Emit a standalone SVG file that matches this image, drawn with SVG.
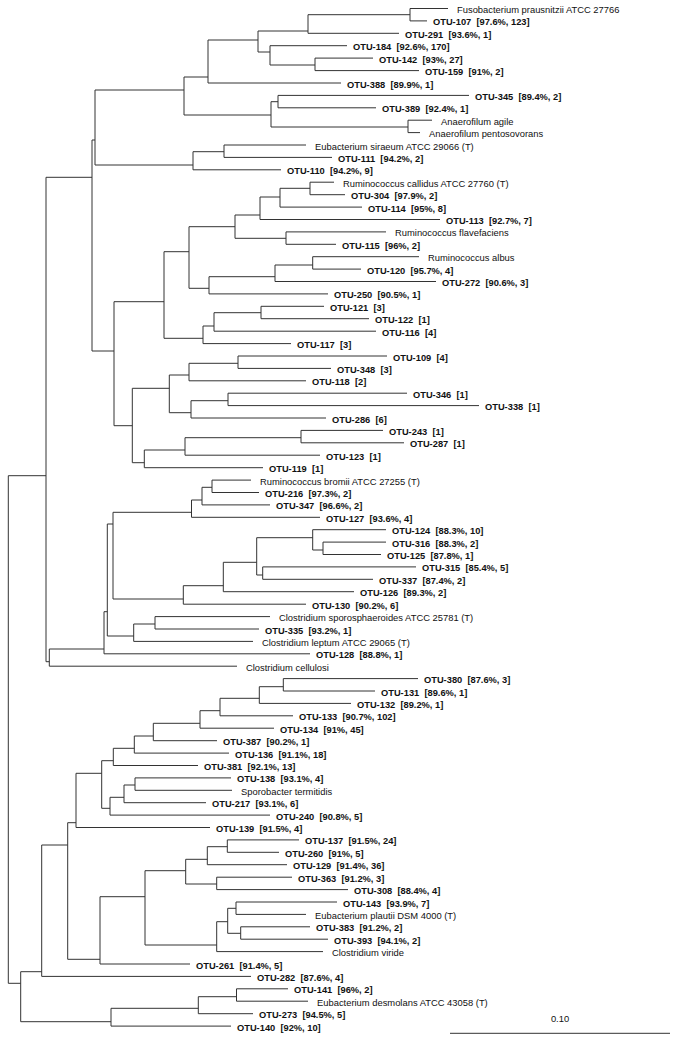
<svg xmlns="http://www.w3.org/2000/svg" width="698" height="1043" viewBox="0 0 698 1043">
<style>
.b{fill:none;stroke:#333;stroke-width:1}
.o{font-family:"Liberation Sans",Arial,sans-serif;font-weight:bold;font-size:9.3px;fill:#111;white-space:pre}
.s{font-family:"Liberation Sans",Arial,sans-serif;font-size:9.4px;fill:#111}
</style>
<rect width="698" height="1043" fill="#fff"/>
<g id="connectors" class="b">
<path id="Na" d="M410 8.5V20.9M410 8.5H448M410 20.9H427"/>
<path id="Nb" d="M308 14.7V33.3M308 14.7H410M308 33.3H399"/>
<path id="Nc" d="M315 58.1V70.6M315 58.1H373M315 70.6H419"/>
<path id="Nd" d="M270 45.7V65M270 45.7H347M270 65H315"/>
<path id="Ne" d="M258 31V52M258 31H308M258 52H270"/>
<path id="Nf" d="M208 40V83M208 40H258M208 83H341"/>
<path id="Ng" d="M278 95.4V107.8M278 95.4H469M278 107.8H376"/>
<path id="Nh" d="M408 120.2V132.6M408 120.2H432M408 132.6H420"/>
<path id="Ni" d="M271 101.7V127M271 101.7H278M271 127H408"/>
<path id="Nj" d="M184 77V115M184 77H208M184 115H271"/>
<path id="Nl" d="M224 145V157.4M224 145H306M224 157.4H332"/>
<path id="Nm" d="M193 151.7V169.8M193 151.7H224M193 169.8H281"/>
<path id="Nk" d="M95 90V165M95 90H184M95 165H193"/>
<path id="R1" d="M310 182.2V194.7M310 182.2H334M310 194.7H345"/>
<path id="R2" d="M280 188.3V207.1M280 188.3H310M280 207.1H362"/>
<path id="R3" d="M260 197V219.5M260 197H280M260 219.5H440"/>
<path id="R4" d="M286 231.9V244.3M286 231.9H386M286 244.3H336"/>
<path id="R5" d="M235 215V238.3M235 215H260M235 238.3H286"/>
<path id="R6" d="M312.7 256.7V269.1M312.7 256.7H419M312.7 269.1H361"/>
<path id="R7" d="M275 265V281.5M275 265H312.7M275 281.5H436"/>
<path id="R8" d="M209 276.7V293.9M209 276.7H275M209 293.9H328"/>
<path id="R9" d="M189 226.7V288.3M189 226.7H235M189 288.3H209"/>
<path id="R10" d="M261 306.3V318.7M261 306.3H324M261 318.7H369"/>
<path id="R11" d="M214 312.7V331.2M214 312.7H261M214 331.2H376"/>
<path id="R12" d="M203 326V343.6M203 326H214M203 343.6H291"/>
<path id="R13" d="M164 251.7V338.3M164 251.7H189M164 338.3H203"/>
<path id="S1" d="M238 356V368.4M238 356H387M238 368.4H331"/>
<path id="S2" d="M189 363.3V380.8M189 363.3H238M189 380.8H306"/>
<path id="S3" d="M228 393.2V405.6M228 393.2H407M228 405.6H479"/>
<path id="S4" d="M191 400.7V418M191 400.7H228M191 418H326"/>
<path id="S5" d="M169.3 375V412.7M169.3 375H189M169.3 412.7H191"/>
<path id="S6" d="M301 430.4V442.8M301 430.4H383M301 442.8H404"/>
<path id="S7" d="M185 437.7V455.2M185 437.7H301M185 455.2H320"/>
<path id="S8" d="M144.3 450V467.7M144.3 450H185M144.3 467.7H263"/>
<path id="S9" d="M132.3 388.3V462.7M132.3 388.3H169.3M132.3 462.7H144.3"/>
<path id="X" d="M114 301.7V425.7M114 301.7H164M114 425.7H132.3"/>
<path id="Nn" d="M92 140V351M92 140H95M92 351H114"/>
<path id="B1" d="M212 480.1V492.5M212 480.1H251M212 492.5H259"/>
<path id="B2" d="M202 487.3V504.9M202 487.3H212M202 504.9H270"/>
<path id="B3" d="M191.5 500V517.3M191.5 500H202M191.5 517.3H320"/>
<path id="A1" d="M323 542.1V554.5M323 542.1H386M323 554.5H381"/>
<path id="A2" d="M312.7 529.7V550M312.7 529.7H386M312.7 550H323"/>
<path id="A3" d="M262.7 566.9V579.3M262.7 566.9H416M262.7 579.3H373"/>
<path id="A4" d="M256.7 537.7V575M256.7 537.7H312.7M256.7 575H262.7"/>
<path id="A5" d="M223.3 562.3V591.7M223.3 562.3H256.7M223.3 591.7H354"/>
<path id="A6" d="M183.3 585.7V604.2M183.3 585.7H223.3M183.3 604.2H306"/>
<path id="B4" d="M113 512.3V599M113 512.3H191.5M113 599H183.3"/>
<path id="C1" d="M155 616.6V629M155 616.6H270M155 629H259"/>
<path id="C2" d="M133.7 624V641.4M133.7 624H155M133.7 641.4H253"/>
<path id="C3" d="M107.3 524V636M107.3 524H113M107.3 636H133.7"/>
<path id="C4" d="M104 611.7V653.8M104 611.7H107.3M104 653.8H310"/>
<path id="C5" d="M49.3 649V666.2M49.3 649H104M49.3 666.2H237"/>
<path id="No" d="M46 177.3V661.7M46 177.3H92M46 661.7H49.3"/>
<path id="D1" d="M283.3 678.6V691M283.3 678.6H418M283.3 691H375"/>
<path id="D2" d="M259.3 686.7V703.4M259.3 686.7H283.3M259.3 703.4H351"/>
<path id="D3" d="M220 698.3V715.8M220 698.3H259.3M220 715.8H293"/>
<path id="D4" d="M200 710.7V728.2M200 710.7H220M200 728.2H274"/>
<path id="D5" d="M153.3 723.3V740.7M153.3 723.3H200M153.3 740.7H217"/>
<path id="D6" d="M134.3 736V753.1M134.3 736H153.3M134.3 753.1H229"/>
<path id="D7" d="M113.3 748.3V765.5M113.3 748.3H134.3M113.3 765.5H198"/>
<path id="E1" d="M135 777.9V790.3M135 777.9H231M135 790.3H232"/>
<path id="E2" d="M124 785V802.7M124 785H135M124 802.7H206"/>
<path id="E3" d="M110 797.3V815.1M110 797.3H124M110 815.1H270"/>
<path id="D8" d="M101.7 760.7V808.3M101.7 760.7H113.3M101.7 808.3H110"/>
<path id="D9" d="M76 773.3V827.5M76 773.3H101.7M76 827.5H210"/>
<path id="F1" d="M227.3 839.9V852.3M227.3 839.9H299M227.3 852.3H279"/>
<path id="F2" d="M207.3 846.7V864.7M207.3 846.7H227.3M207.3 864.7H287"/>
<path id="F3" d="M216.7 877.2V889.6M216.7 877.2H292M216.7 889.6H348"/>
<path id="F4" d="M185.7 859.3V884M185.7 859.3H207.3M185.7 884H216.7"/>
<path id="G1" d="M236 902V914.4M236 902H337M236 914.4H306"/>
<path id="G2" d="M240.7 926.8V939.2M240.7 926.8H310M240.7 939.2H328"/>
<path id="G3" d="M227.7 908.3V933.3M227.7 908.3H236M227.7 933.3H240.7"/>
<path id="G4" d="M216.7 921.7V951.6M216.7 921.7H227.7M216.7 951.6H323"/>
<path id="F5" d="M145 870.7V945M145 870.7H185.7M145 945H216.7"/>
<path id="F6" d="M100 896.7V964M100 896.7H145M100 964H190"/>
<path id="D10" d="M67.7 822.7V959.3M67.7 822.7H76M67.7 959.3H100"/>
<path id="D11" d="M41.7 845V976.4M41.7 845H67.7M41.7 976.4H251"/>
<path id="H1" d="M236.5 988.8V1001.2M236.5 988.8H288M236.5 1001.2H308"/>
<path id="H2" d="M198.3 996.7V1013.7M198.3 996.7H236.5M198.3 1013.7H253"/>
<path id="H3" d="M111 1008.3V1026.1M111 1008.3H198.3M111 1026.1H231"/>
<path id="D12" d="M20.7 971.7V1021.7M20.7 971.7H41.7M20.7 1021.7H111"/>
<path id="Root" d="M8.3 475.7V983.3M8.3 475.7H46M8.3 983.3H20.7"/>
</g>
<g id="leaf-fuso"><text class="s" x="457" y="13">Fusobacterium prausnitzii ATCC 27766</text></g>
<g id="leaf-otu107"><text class="o" x="433" y="25.4" xml:space="preserve">OTU-107  [97.6%, 123]</text></g>
<g id="leaf-otu291"><text class="o" x="405" y="37.8" xml:space="preserve">OTU-291  [93.6%, 1]</text></g>
<g id="leaf-otu184"><text class="o" x="353" y="50.2" xml:space="preserve">OTU-184  [92.6%, 170]</text></g>
<g id="leaf-otu142"><text class="o" x="379" y="62.6" xml:space="preserve">OTU-142  [93%, 27]</text></g>
<g id="leaf-otu159"><text class="o" x="425" y="75.1" xml:space="preserve">OTU-159  [91%, 2]</text></g>
<g id="leaf-otu388"><text class="o" x="347" y="87.5" xml:space="preserve">OTU-388  [89.9%, 1]</text></g>
<g id="leaf-otu345"><text class="o" x="475" y="99.9" xml:space="preserve">OTU-345  [89.4%, 2]</text></g>
<g id="leaf-otu389"><text class="o" x="382" y="112.3" xml:space="preserve">OTU-389  [92.4%, 1]</text></g>
<g id="leaf-aagile"><text class="s" x="441" y="124.7">Anaerofilum agile</text></g>
<g id="leaf-apento"><text class="s" x="429" y="137.1">Anaerofilum pentosovorans</text></g>
<g id="leaf-esiraeum"><text class="s" x="315" y="149.5">Eubacterium siraeum ATCC 29066 (T)</text></g>
<g id="leaf-otu111"><text class="o" x="338" y="161.9" xml:space="preserve">OTU-111  [94.2%, 2]</text></g>
<g id="leaf-otu110"><text class="o" x="287" y="174.3" xml:space="preserve">OTU-110  [94.2%, 9]</text></g>
<g id="leaf-rcallidus"><text class="s" x="343" y="186.7">Ruminococcus callidus ATCC 27760 (T)</text></g>
<g id="leaf-otu304"><text class="o" x="351" y="199.2" xml:space="preserve">OTU-304  [97.9%, 2]</text></g>
<g id="leaf-otu114"><text class="o" x="368" y="211.6" xml:space="preserve">OTU-114  [95%, 8]</text></g>
<g id="leaf-otu113"><text class="o" x="446" y="224" xml:space="preserve">OTU-113  [92.7%, 7]</text></g>
<g id="leaf-rflav"><text class="s" x="395" y="236.4">Ruminococcus flavefaciens</text></g>
<g id="leaf-otu115"><text class="o" x="342" y="248.8" xml:space="preserve">OTU-115  [96%, 2]</text></g>
<g id="leaf-ralbus"><text class="s" x="428" y="261.2">Ruminococcus albus</text></g>
<g id="leaf-otu120"><text class="o" x="367" y="273.6" xml:space="preserve">OTU-120  [95.7%, 4]</text></g>
<g id="leaf-otu272"><text class="o" x="442" y="286" xml:space="preserve">OTU-272  [90.6%, 3]</text></g>
<g id="leaf-otu250"><text class="o" x="334" y="298.4" xml:space="preserve">OTU-250  [90.5%, 1]</text></g>
<g id="leaf-otu121"><text class="o" x="330" y="310.8" xml:space="preserve">OTU-121  [3]</text></g>
<g id="leaf-otu122"><text class="o" x="375" y="323.2" xml:space="preserve">OTU-122  [1]</text></g>
<g id="leaf-otu116"><text class="o" x="382" y="335.7" xml:space="preserve">OTU-116  [4]</text></g>
<g id="leaf-otu117"><text class="o" x="297" y="348.1" xml:space="preserve">OTU-117  [3]</text></g>
<g id="leaf-otu109"><text class="o" x="393" y="360.5" xml:space="preserve">OTU-109  [4]</text></g>
<g id="leaf-otu348"><text class="o" x="337" y="372.9" xml:space="preserve">OTU-348  [3]</text></g>
<g id="leaf-otu118"><text class="o" x="312" y="385.3" xml:space="preserve">OTU-118  [2]</text></g>
<g id="leaf-otu346"><text class="o" x="413" y="397.7" xml:space="preserve">OTU-346  [1]</text></g>
<g id="leaf-otu338"><text class="o" x="485" y="410.1" xml:space="preserve">OTU-338  [1]</text></g>
<g id="leaf-otu286"><text class="o" x="332" y="422.5" xml:space="preserve">OTU-286  [6]</text></g>
<g id="leaf-otu243"><text class="o" x="389" y="434.9" xml:space="preserve">OTU-243  [1]</text></g>
<g id="leaf-otu287"><text class="o" x="410" y="447.3" xml:space="preserve">OTU-287  [1]</text></g>
<g id="leaf-otu123"><text class="o" x="326" y="459.7" xml:space="preserve">OTU-123  [1]</text></g>
<g id="leaf-otu119"><text class="o" x="269" y="472.2" xml:space="preserve">OTU-119  [1]</text></g>
<g id="leaf-rbromii"><text class="s" x="260" y="484.6">Ruminococcus bromii ATCC 27255 (T)</text></g>
<g id="leaf-otu216"><text class="o" x="265" y="497" xml:space="preserve">OTU-216  [97.3%, 2]</text></g>
<g id="leaf-otu347"><text class="o" x="276" y="509.4" xml:space="preserve">OTU-347  [96.6%, 2]</text></g>
<g id="leaf-otu127"><text class="o" x="326" y="521.8" xml:space="preserve">OTU-127  [93.6%, 4]</text></g>
<g id="leaf-otu124"><text class="o" x="392" y="534.2" xml:space="preserve">OTU-124  [88.3%, 10]</text></g>
<g id="leaf-otu316"><text class="o" x="392" y="546.6" xml:space="preserve">OTU-316  [88.3%, 2]</text></g>
<g id="leaf-otu125"><text class="o" x="387" y="559" xml:space="preserve">OTU-125  [87.8%, 1]</text></g>
<g id="leaf-otu315"><text class="o" x="422" y="571.4" xml:space="preserve">OTU-315  [85.4%, 5]</text></g>
<g id="leaf-otu337"><text class="o" x="379" y="583.8" xml:space="preserve">OTU-337  [87.4%, 2]</text></g>
<g id="leaf-otu126"><text class="o" x="360" y="596.2" xml:space="preserve">OTU-126  [89.3%, 2]</text></g>
<g id="leaf-otu130"><text class="o" x="312" y="608.7" xml:space="preserve">OTU-130  [90.2%, 6]</text></g>
<g id="leaf-csporo"><text class="s" x="279" y="621.1">Clostridium sporosphaeroides ATCC 25781 (T)</text></g>
<g id="leaf-otu335"><text class="o" x="265" y="633.5" xml:space="preserve">OTU-335  [93.2%, 1]</text></g>
<g id="leaf-cleptum"><text class="s" x="262" y="645.9">Clostridium leptum ATCC 29065 (T)</text></g>
<g id="leaf-otu128"><text class="o" x="316" y="658.3" xml:space="preserve">OTU-128  [88.8%, 1]</text></g>
<g id="leaf-ccellulosi"><text class="s" x="246" y="670.7">Clostridium cellulosi</text></g>
<g id="leaf-otu380"><text class="o" x="424" y="683.1" xml:space="preserve">OTU-380  [87.6%, 3]</text></g>
<g id="leaf-otu131"><text class="o" x="381" y="695.5" xml:space="preserve">OTU-131  [89.6%, 1]</text></g>
<g id="leaf-otu132"><text class="o" x="357" y="707.9" xml:space="preserve">OTU-132  [89.2%, 1]</text></g>
<g id="leaf-otu133"><text class="o" x="299" y="720.3" xml:space="preserve">OTU-133  [90.7%, 102]</text></g>
<g id="leaf-otu134"><text class="o" x="280" y="732.7" xml:space="preserve">OTU-134  [91%, 45]</text></g>
<g id="leaf-otu387"><text class="o" x="223" y="745.2" xml:space="preserve">OTU-387  [90.2%, 1]</text></g>
<g id="leaf-otu136"><text class="o" x="235" y="757.6" xml:space="preserve">OTU-136  [91.1%, 18]</text></g>
<g id="leaf-otu381"><text class="o" x="204" y="770" xml:space="preserve">OTU-381  [92.1%, 13]</text></g>
<g id="leaf-otu138"><text class="o" x="237" y="782.4" xml:space="preserve">OTU-138  [93.1%, 4]</text></g>
<g id="leaf-sporobacter"><text class="s" x="241" y="794.8">Sporobacter termitidis</text></g>
<g id="leaf-otu217"><text class="o" x="212" y="807.2" xml:space="preserve">OTU-217  [93.1%, 6]</text></g>
<g id="leaf-otu240"><text class="o" x="276" y="819.6" xml:space="preserve">OTU-240  [90.8%, 5]</text></g>
<g id="leaf-otu139"><text class="o" x="216" y="832" xml:space="preserve">OTU-139  [91.5%, 4]</text></g>
<g id="leaf-otu137"><text class="o" x="305" y="844.4" xml:space="preserve">OTU-137  [91.5%, 24]</text></g>
<g id="leaf-otu260"><text class="o" x="285" y="856.8" xml:space="preserve">OTU-260  [91%, 5]</text></g>
<g id="leaf-otu129"><text class="o" x="293" y="869.2" xml:space="preserve">OTU-129  [91.4%, 36]</text></g>
<g id="leaf-otu363"><text class="o" x="298" y="881.7" xml:space="preserve">OTU-363  [91.2%, 3]</text></g>
<g id="leaf-otu308"><text class="o" x="354" y="894.1" xml:space="preserve">OTU-308  [88.4%, 4]</text></g>
<g id="leaf-otu143"><text class="o" x="343" y="906.5" xml:space="preserve">OTU-143  [93.9%, 7]</text></g>
<g id="leaf-eplautii"><text class="s" x="315" y="918.9">Eubacterium plautii DSM 4000 (T)</text></g>
<g id="leaf-otu383"><text class="o" x="316" y="931.3" xml:space="preserve">OTU-383  [91.2%, 2]</text></g>
<g id="leaf-otu393"><text class="o" x="334" y="943.7" xml:space="preserve">OTU-393  [94.1%, 2]</text></g>
<g id="leaf-cviride"><text class="s" x="332" y="956.1">Clostridium viride</text></g>
<g id="leaf-otu261"><text class="o" x="196" y="968.5" xml:space="preserve">OTU-261  [91.4%, 5]</text></g>
<g id="leaf-otu282"><text class="o" x="257" y="980.9" xml:space="preserve">OTU-282  [87.6%, 4]</text></g>
<g id="leaf-otu141"><text class="o" x="294" y="993.3" xml:space="preserve">OTU-141  [96%, 2]</text></g>
<g id="leaf-edesmolans"><text class="s" x="317" y="1005.7">Eubacterium desmolans ATCC 43058 (T)</text></g>
<g id="leaf-otu273"><text class="o" x="259" y="1018.2" xml:space="preserve">OTU-273  [94.5%, 5]</text></g>
<g id="leaf-otu140"><text class="o" x="237" y="1030.6" xml:space="preserve">OTU-140  [92%, 10]</text></g>
<g id="scale-bar">
<path class="b" d="M450 1033.3H670"/>
<text class="s" x="560" y="1021.5" text-anchor="middle">0.10</text>
</g>
</svg>
